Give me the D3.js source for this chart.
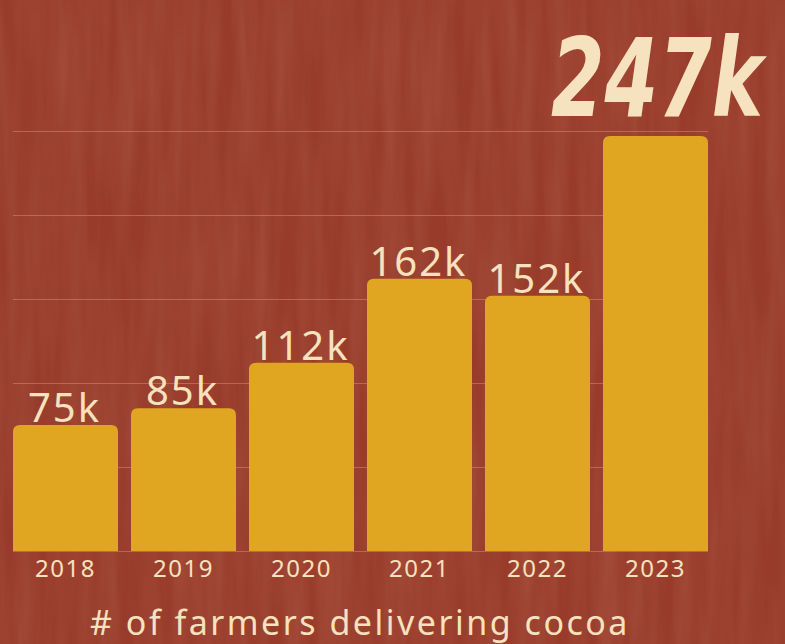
<!DOCTYPE html>
<html>
<head>
<meta charset="utf-8">
<script src="https://cdn.jsdelivr.net/npm/d3@7"></script>
<style>
  html, body { margin: 0; padding: 0; background: #9a3c2b; overflow: hidden; }
  svg { display: block; }
</style>
</head>
<body>
<svg id="chart" width="785" height="644"></svg>
<script>
var years = ["2018", "2019", "2020", "2021", "2022", "2023"];
var farmers = [75, 85, 112, 162, 152, 247];   // thousands
var valueLabels = ["75k", "85k", "112k", "162k", "152k", "247k"];
var gridTicks = [0, 50, 100, 150, 200, 250];
var caption = "# of farmers delivering cocoa";

var svg = d3.select("#chart"),
    WIDTH = 785,
    HEIGHT = 644,
    MARGINS = { top: 131, right: 77, bottom: 93, left: 13 };

// textured background, faint vertical streaks
var defs = svg.append("defs");
var filt = defs.append("filter").attr("id", "grain").attr("x", 0).attr("y", 0).attr("width", "100%").attr("height", "100%");
filt.append("feTurbulence").attr("type", "fractalNoise").attr("baseFrequency", "0.06 0.006").attr("numOctaves", 3).attr("seed", 7);
filt.append("feColorMatrix").attr("type", "matrix")
  .attr("values", "0 0 0 0 0.72  0 0 0 0 0.33  0 0 0 0 0.24  0 0 0 -1.3 1.0");
svg.append("rect").attr("width", WIDTH).attr("height", HEIGHT).attr("fill", "#983b2a");
svg.append("rect").attr("width", WIDTH).attr("height", HEIGHT).attr("filter", "url(#grain)").attr("opacity", 0.18);

var x = d3.scaleBand()
  .domain(years)
  .range([MARGINS.left, WIDTH - MARGINS.right])
  .paddingInner(0.11)
  .paddingOuter(0);

var y = d3.scaleLinear()
  .domain([0, 250])
  .range([HEIGHT - MARGINS.bottom, MARGINS.top]);

// gridlines
var grid = svg.append("g")
  .attr("transform", "translate(" + MARGINS.left + ",0)")
  .call(d3.axisRight(y).tickValues(gridTicks).tickSize(WIDTH - MARGINS.right - MARGINS.left).tickFormat(""));
grid.select(".domain").remove();
grid.selectAll("line").attr("stroke", "#e8a58f").attr("stroke-opacity", 0.4).attr("stroke-width", 1);

// bars with rounded top corners
var r = 7;
function barPath(d, i) {
  var x0 = x(years[i]), w = x.bandwidth(), y0 = y(d), y1 = y(0);
  return "M" + x0 + "," + y1 +
    "V" + (y0 + r) +
    "Q" + x0 + "," + y0 + " " + (x0 + r) + "," + y0 +
    "H" + (x0 + w - r) +
    "Q" + (x0 + w) + "," + y0 + " " + (x0 + w) + "," + (y0 + r) +
    "V" + y1 + "Z";
}
svg.append("g").selectAll("path")
  .data(farmers)
  .enter().append("path")
  .attr("d", barPath)
  .attr("fill", "#e0a521");

// value labels (last one is the big brush headline)
svg.append("g").selectAll("text")
  .data(farmers.slice(0, 5))
  .enter().append("text")
  .attr("x", function(d, i) { return x(years[i]) + x.bandwidth() / 2 - 1; })
  .attr("y", function(d) { return y(d) - 3; })
  .attr("text-anchor", "middle")
  .attr("font-family", "'Noto Sans', sans-serif")
  .attr("font-size", 40)
  .attr("letter-spacing", 2)
  .attr("fill", "#f6e2bf")
  .text(function(d, i) { return valueLabels[i]; });

// headline squeezed horizontally to mimic the narrow brush lettering
var headline = svg.append("text")
  .attr("x", 0)
  .attr("y", 0)
  .attr("font-family", "'DejaVu Sans', sans-serif")
  .attr("font-style", "italic")
  .attr("font-weight", "bold")
  .attr("font-size", 108)
  .attr("fill", "#f6e2bf")
  .text(valueLabels[5]);
var natural = headline.node().getComputedTextLength();
headline.attr("transform", "translate(551,116) scale(" + (212 / natural) + ",1)");

// year axis
var xAxis = svg.append("g")
  .attr("transform", "translate(0," + y(0) + ")")
  .call(d3.axisBottom(x).tickSize(0).tickPadding(9));
xAxis.select(".domain").remove();
xAxis.selectAll("text")
  .attr("font-family", "'Noto Sans', sans-serif")
  .attr("font-size", 24)
  .attr("letter-spacing", 1.5)
  .attr("fill", "#f6e2bf");

// caption
svg.append("text")
  .attr("x", 360)
  .attr("y", 635)
  .attr("text-anchor", "middle")
  .attr("font-family", "'Noto Sans', sans-serif")
  .attr("font-size", 34)
  .attr("letter-spacing", 2.5)
  .attr("fill", "#f6e2bf")
  .text(caption);
</script>
</body>
</html>
